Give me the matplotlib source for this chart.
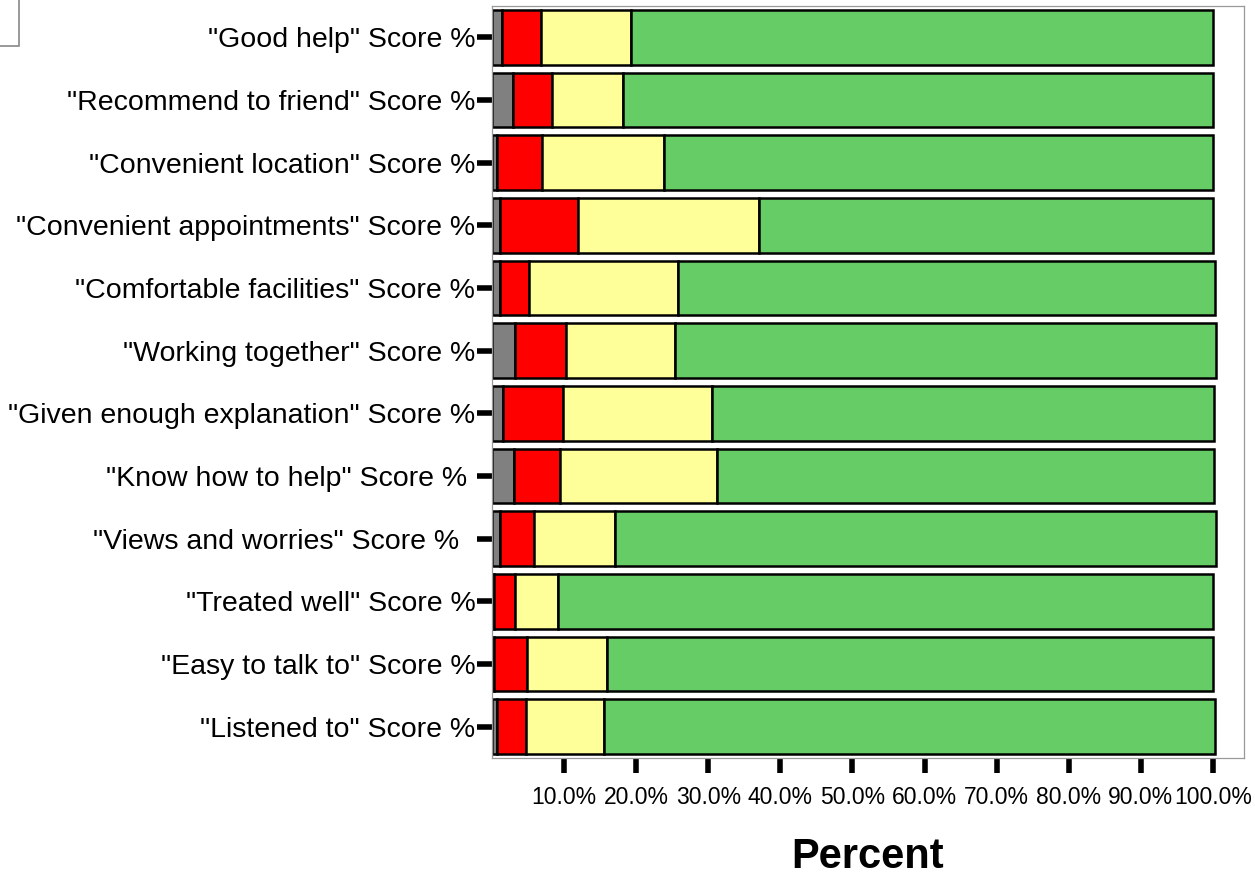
import numpy as np
import matplotlib
matplotlib.use('Agg')
import matplotlib.pyplot as plt
from matplotlib.patches import Rectangle

plt.rcParams['font.family'] = ['Liberation Sans', 'DejaVu Sans']

# Categories, top to bottom as shown
categories = ['"Good help" Score %', '"Recommend to friend" Score %',
              '"Convenient location" Score %', '"Convenient appointments" Score %',
              '"Comfortable facilities" Score %', '"Working together" Score %',
              '"Given enough explanation" Score %', '"Know how to help" Score % ',
              '"Views and worries" Score %  ', '"Treated well" Score %',
              '"Easy to talk to" Score %', '"Listened to" Score %']

# Percent in each response band (grey = no answer, red = poor, yellow = fair, green = good)
grey = [1.4, 2.9, 0.7, 1.1, 1.1, 3.2, 1.5, 3.0, 1.1, 0.3, 0.3, 0.65]
red = [5.4, 5.4, 6.2, 10.9, 4.0, 7.0, 8.3, 6.5, 4.8, 2.9, 4.5, 4.1]
yellow = [12.5, 9.9, 17.0, 25.0, 20.7, 15.2, 20.7, 21.7, 11.2, 5.9, 11.2, 10.8]
green = [80.7, 81.8, 76.1, 63.0, 74.5, 75.0, 69.7, 69.0, 83.3, 90.9, 84.0, 84.8]

tick_vals = [10, 20, 30, 40, 50, 60, 70, 80, 90, 100]

fig = plt.figure(figsize=(12.55, 8.75), dpi=100)
ax = fig.add_axes([0.392, 0.1337, 0.5992, 0.8594])

y = np.arange(len(categories))
left = np.zeros(len(categories))
for vals, col in [(grey, '#808080'), (red, '#ff0000'), (yellow, '#ffff99'), (green, '#66cc66')]:
    ax.barh(y, vals, left=left, height=0.87, color=col, edgecolor='black', linewidth=1.8)
    left = left + np.array(vals)

ax.set_ylim(len(categories) - 0.5, -0.5)
ax.set_xlim(0, 104.3)
ax.set_yticks(y)
ax.set_yticklabels(categories, fontsize=20.5, va='center_baseline')
ax.set_xticks(tick_vals)
ax.set_xticklabels(['%.1f%%' % v for v in tick_vals], fontsize=16.5)
ax.tick_params(axis='y', length=11, width=4, pad=1)
ax.tick_params(axis='x', length=11, width=4, pad=9)
for s in ax.spines.values():
    s.set_color('#999999')
    s.set_linewidth(0.9)

ax.set_xlabel('Percent', fontsize=30, fontweight='bold', labelpad=20)

# cropped legend box at the top-left corner
fig.patches.append(Rectangle((-0.02, 0.948), 0.035, 0.06, transform=fig.transFigure,
                             fill=False, edgecolor='#888888', linewidth=1.2))

fig.savefig('out.png', dpi=100)
